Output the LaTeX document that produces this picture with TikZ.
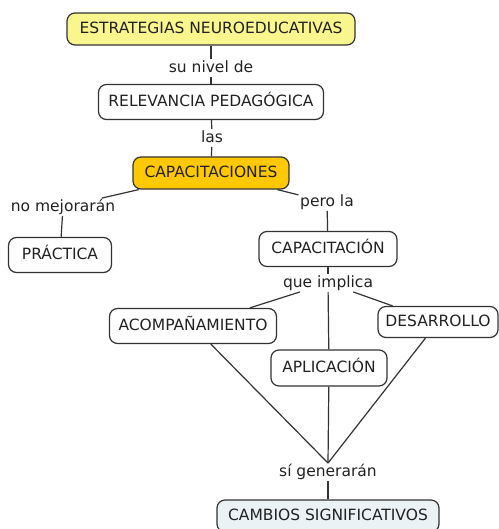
\documentclass[tikz,border=0pt]{standalone}
\usepackage{fontspec}
\setmainfont{DejaVu Sans}
\definecolor{linec}{HTML}{333333}
\definecolor{textc}{HTML}{222222}
\definecolor{yel}{HTML}{FAF68E}
\definecolor{ora}{HTML}{FFC800}
\definecolor{pale}{HTML}{EAF2F5}
\begin{document}
\begin{tikzpicture}[x=1pt,y=-1pt,
  concept/.style={draw=linec, line width=1.2pt, rounded corners=8pt, fill=white,
    text=textc, font=\fontsize{15.5}{18}\selectfont, inner xsep=3pt, inner ysep=0pt,
    text height=11.5pt, text depth=3pt, minimum height=34pt},
  lbl/.style={text=textc, font=\fontsize{15.5}{18}\selectfont, inner sep=1.5pt,
    text height=11.5pt, text depth=3pt},
  link/.style={draw=linec, line width=1.2pt}]
\useasboundingbox (0,0) rectangle (498,529);
% concepts
\node[concept, fill=yel, minimum width=288pt, minimum height=32pt] (est) at (211,29) {ESTRATEGIAS NEUROEDUCATIVAS};
\node[concept, minimum width=225pt, minimum height=35pt] (rel) at (211,102) {RELEVANCIA PEDAGÓGICA};
\node[concept, fill=ora, minimum width=156pt, minimum height=32pt] (caps) at (211,173) {CAPACITACIONES};
\node[concept, minimum width=103pt, minimum height=35pt] (prac) at (60,255) {PRÁCTICA};
\node[concept, minimum width=138pt, minimum height=35pt] (capn) at (328,249) {CAPACITACIÓN};
\node[concept, minimum width=167pt, minimum height=35pt] (acomp) at (193,326) {ACOMPAÑAMIENTO};
\node[concept, minimum width=120pt, minimum height=31pt] (des) at (438,322) {DESARROLLO};
\node[concept, minimum width=116pt, minimum height=36pt] (apl) at (329,368) {APLICACIÓN};
\node[concept, fill=pale, minimum width=222pt, minimum height=32pt] (camb) at (328,516) {CAMBIOS SIGNIFICATIVOS};
% labels
\node[lbl] (l1) at (211,68) {su nivel de};
\node[lbl] (l2) at (212,138) {las};
\node[lbl] (l3) at (63,207) {no mejorarán};
\node[lbl] (l4) at (327,202) {pero la};
\node[lbl] (l5) at (328,283) {que implica};
\node[lbl] (l6) at (328,472) {sí generarán};
% links
\draw[link] (est) -- (l1);
\draw[link] (l1) -- (rel);
\draw[link] (rel) -- (l2);
\draw[link] (l2) -- (caps);
\draw[link] (caps) -- (l3);
\draw[link] (l3) -- (prac);
\draw[link] (caps) -- (l4);
\draw[link] (l4) -- (capn);
\draw[link] (capn) -- (l5);
\draw[link] (l5) -- (acomp);
\draw[link] (l5) -- (des);
\draw[link] (l5) -- (apl);
\draw[link] (acomp) -- (l6.north);
\draw[link] (des) -- (l6.north);
\draw[link] (apl) -- (l6.north);
\draw[link] (l6) -- (camb);
\end{tikzpicture}
\end{document}
